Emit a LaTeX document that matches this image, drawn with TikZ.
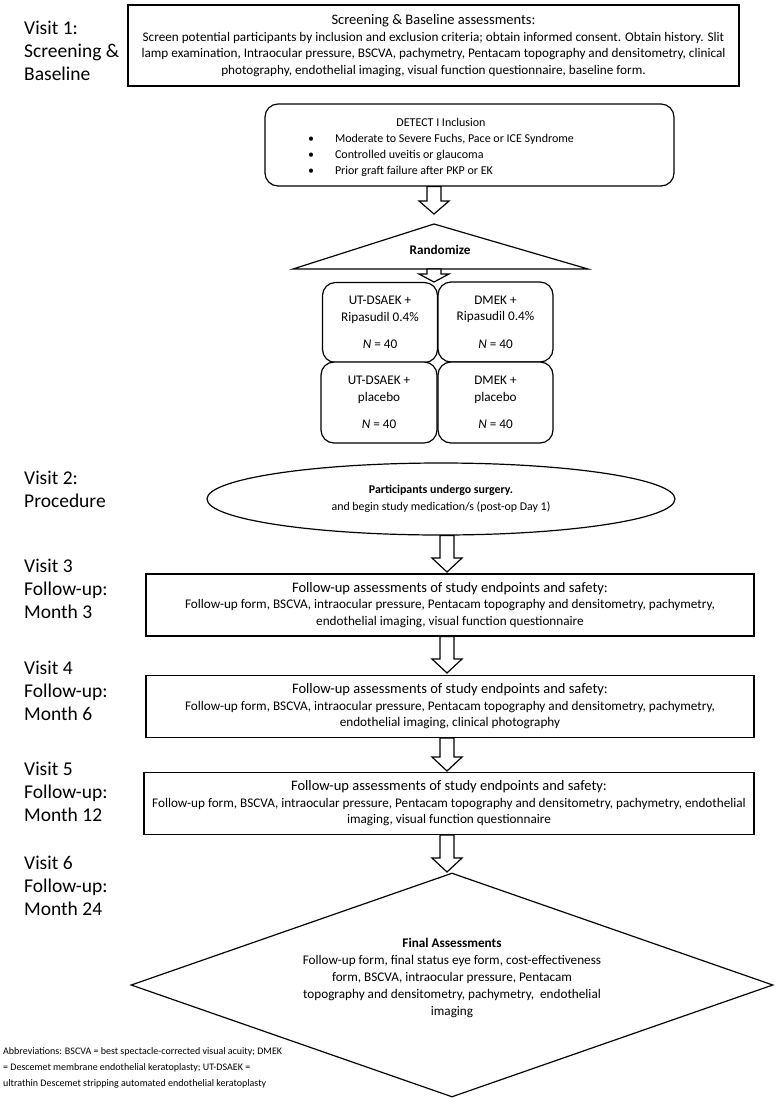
\documentclass[tikz,border=0pt]{standalone}
\usepackage{fontspec}
\setmainfont{Carlito}
\usetikzlibrary{shapes.geometric,calc}
\newcommand{\fsz}[2]{\fontsize{#1}{#2}\selectfont}
\newcommand{\blockarrow}[3]{%
  \draw[arrowbody] let \p1=(#1), \p2=(#2) in
    (\x2-7pt,\y1) -- (\x2-7pt,\y2+#3pt) -- (\x2-15pt,\y2+#3pt) -- (\x2,\y2)
    -- (\x2+15pt,\y2+#3pt) -- (\x2+7pt,\y2+#3pt) -- (\x2+7pt,\y1) -- cycle;}
\begin{document}
\begin{tikzpicture}[x=1pt,y=-1pt,
  box/.style={draw, line width=1.2pt, align=center, inner sep=0pt, fill=white},
  rbox/.style={box, rounded corners=13pt},
  visit/.style={anchor=north west, align=left, inner sep=0pt, font=\fsz{19.5}{23}},
  body/.style={font=\fsz{13.2}{16.5}},
  arrowbody/.style={draw, line width=1.2pt, fill=white, line join=miter}]
\useasboundingbox[fill=white] (0,0) rectangle (776,1104);

% visit labels
\node[visit] (v1) at (24,20.5) {Visit 1:\\Screening \&\\Baseline};
\node[visit] (v2) at (24,470.5) {Visit 2:\\Procedure};
\node[visit] (v3) at (24,558.5) {Visit 3\\Follow-up:\\Month 3};
\node[visit] (v4) at (24,660.5) {Visit 4\\Follow-up:\\Month 6};
\node[visit] (v5) at (24,761.5) {Visit 5\\Follow-up:\\Month 12};
\node[visit] (v6) at (24,855.5) {Visit 6\\Follow-up:\\Month 24};

% screening box
\node[box, body, minimum width=611, minimum height=81] (screen) at (433.5,45.5)
  {{\fsz{14.5}{17}Screening \& Baseline assessments:}\\
   Screen potential participants by inclusion and exclusion criteria; obtain informed consent. Obtain history. Slit\\
   lamp examination, Intraocular pressure, BSCVA, pachymetry, Pentacam topography and densitometry, clinical\\
   photography, endothelial imaging, visual function questionnaire, baseline form.};

% DETECT inclusion
\node[rbox, minimum width=409, minimum height=82] (detect) at (469.5,145) {};
\node[inner sep=0pt, font=\fsz{12}{16}] (detecttext) at (441,147)
  {\begin{tabular}{@{}l@{\hspace{21pt}}l@{}}
   \multicolumn{2}{c}{DETECT I Inclusion}\\
   \textbullet & Moderate to Severe Fuchs, Pace or ICE Syndrome\\
   \textbullet & Controlled uveitis or glaucoma\\
   \textbullet & Prior graft failure after PKP or EK
   \end{tabular}};

% randomize triangle
\coordinate (rapex) at (434,224);
\coordinate (rleft) at (293,269);
\coordinate (rright) at (588,269);
\draw[line width=1.2pt, line join=miter] (rleft) -- (rapex) -- (rright) -- cycle;
\node[inner sep=0pt, font=\bfseries\fsz{13.2}{16}] (rand) at (440,250) {Randomize};

% 2x2 grid
\node[rbox, body, minimum width=115, minimum height=80] (g1) at (380,322.5)
  {UT-DSAEK +\\Ripasudil 0.4\%\\[11pt]\textit{N} = 40};
\node[rbox, body, minimum width=115, minimum height=80] (g2) at (495.5,322)
  {DMEK +\\Ripasudil 0.4\%\\[11pt]\textit{N} = 40};
\node[rbox, body, minimum width=116, minimum height=81] (g3) at (379,402.5)
  {UT-DSAEK +\\placebo\\[11pt]\textit{N} = 40};
\node[rbox, body, minimum width=115, minimum height=81] (g4) at (495.5,402.5)
  {DMEK +\\placebo\\[11pt]\textit{N} = 40};

% surgery ellipse
\node[ellipse, draw, line width=1.2pt, align=center, inner sep=0pt,
      minimum width=468, minimum height=72, font=\fsz{11.9}{17}] (surg) at (441,499)
  {\textbf{Participants undergo surgery.}\\and begin study medication/s (post-op Day 1)};

% follow-up boxes
\node[box, body, minimum width=608, minimum height=62] (m3) at (450,605)
  {{\fsz{14.5}{17}Follow-up assessments of study endpoints and safety:}\\
   Follow-up form, BSCVA, intraocular pressure, Pentacam topography and densitometry, pachymetry,\\
   endothelial imaging, visual function questionnaire};
\node[box, body, minimum width=608, minimum height=62] (m6) at (450,706.5)
  {{\fsz{14.5}{17}Follow-up assessments of study endpoints and safety:}\\
   Follow-up form, BSCVA, intraocular pressure, Pentacam topography and densitometry, pachymetry,\\
   endothelial imaging, clinical photography};
\node[box, body, minimum width=610, minimum height=62] (m12) at (449,803.5)
  {{\fsz{14.5}{17}Follow-up assessments of study endpoints and safety:}\\
   Follow-up form, BSCVA, intraocular pressure, Pentacam topography and densitometry, pachymetry, endothelial\\
   imaging, visual function questionnaire};

% final diamond
\node[diamond, draw, line width=1.2pt, inner sep=0pt, minimum width=642, minimum height=224] (final) at (452,985) {};
\node[inner sep=0pt, align=center, font=\fsz{13.2}{17}] (finaltext) at (452,978)
  {\textbf{Final Assessments}\\
   Follow-up form, final status eye form, cost-effectiveness\\
   form, BSCVA, intraocular pressure, Pentacam\\
   topography and densitometry, pachymetry,\ \ endothelial\\
   imaging};

% abbreviations
\node[anchor=north west, align=left, inner sep=0pt, font=\fsz{10}{16}] (abbr) at (3,1047)
  {Abbreviations: BSCVA = best spectacle-corrected visual acuity; DMEK\\
   = Descemet membrane endothelial keratoplasty; UT-DSAEK =\\
   ultrathin Descemet stripping automated endothelial keratoplasty};

% block arrows
\coordinate (t1) at (434,214);
\coordinate (t2) at (434,282);
\coordinate (t3) at (447,572);
\coordinate (t4) at (447,673);
\coordinate (t5) at (447,771);
\coordinate (t6) at (447,872);
\blockarrow{detect.south}{t1}{13}
\blockarrow{rleft}{t2}{8}
\blockarrow{surg.south}{t3}{14}
\blockarrow{m3.south}{t4}{14}
\blockarrow{m6.south}{t5}{14}
\blockarrow{m12.south}{t6}{14}
\end{tikzpicture}
\end{document}
